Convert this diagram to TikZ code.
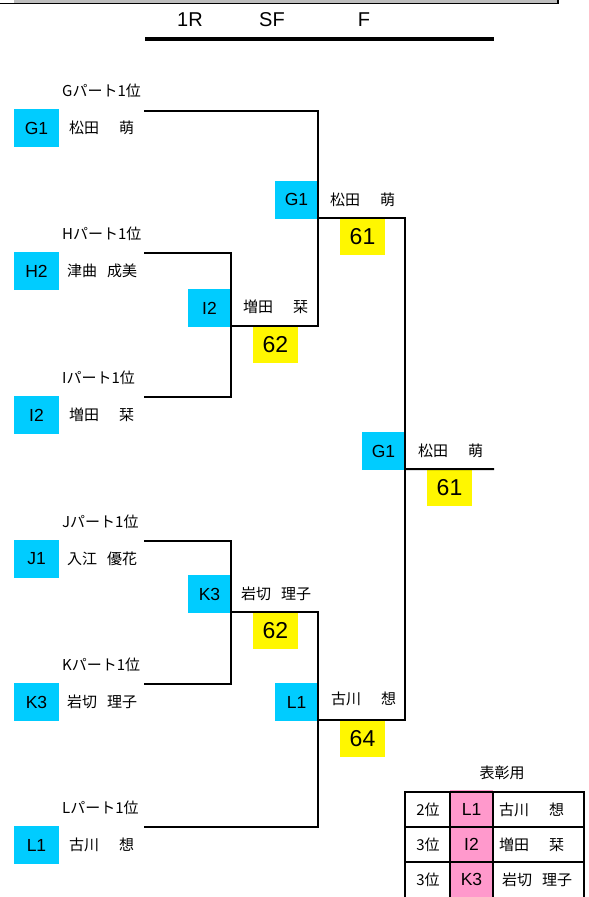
\documentclass[tikz,border=0pt]{standalone}
\usepackage{fontspec}
\setmainfont{Liberation Sans}
\newfontfamily\jp{Noto Sans CJK JP}
\definecolor{sky}{HTML}{00CCFF}
\definecolor{yel}{HTML}{FFF700}
\definecolor{pnk}{HTML}{FF99CC}
\definecolor{barg}{HTML}{BDBDBD}
\newcommand\nmA[2]{\makebox[65pt][l]{#1\hfill#2}}
\newcommand\nmB[2]{\makebox[70pt][l]{#1\hfill#2}}
\begin{document}
\begin{tikzpicture}[x=1pt,y=-1pt,
  seed/.style={fill=sky, minimum width=45pt, minimum height=38pt, inner sep=0pt, font=\fontsize{17.5}{17.5}\selectfont},
  sfbox/.style={seed, minimum width=43pt},
  score/.style={fill=yel, minimum width=45pt, minimum height=36pt, inner sep=0pt, font=\fontsize{23}{23}\selectfont},
  nm/.style={anchor=west, inner sep=0pt, font=\jp\fontsize{15}{15}\selectfont},
  lbl/.style={anchor=west, inner sep=0pt, font=\jp\fontsize{15}{15}\selectfont},
  hdr/.style={inner sep=0pt, font=\fontsize{20}{20}\selectfont},
  br/.style={line width=2pt},
  tcell/.style={inner sep=0pt, font=\jp\fontsize{15}{15}\selectfont},
  tcode/.style={inner sep=0pt, font=\fontsize{17.5}{17.5}\selectfont}]
\useasboundingbox (0,0) rectangle (589,897);
% top bar
\fill[barg] (14,-1) rectangle (558,2.5);
\draw[line width=1.5pt] (0,3.3) -- (558,3.3) -- (558,-1);
% header
\node[hdr] (h1) at (190,20) {1R};
\node[hdr] (h2) at (272,20) {SF};
\node[hdr] (h3) at (364,20) {F};
\coordinate (hl) at (145,39);
\coordinate (hr) at (494,39);
\draw[line width=4pt] (hl) -- (hr);
% left seeds
\node[lbl] (lg) at (62,91) {Gパート1位};
\node[seed] (sG) at (36.5,128) {G1};
\node[nm] (nG) at (69,128) {\nmA{松田}{萌}};
\node[lbl] (lh) at (62,234) {Hパート1位};
\node[seed] (sH) at (36.5,271) {H2};
\node[nm] (nH) at (67,271) {\nmB{津曲}{成美}};
\node[lbl] (li) at (62,378) {Iパート1位};
\node[seed] (sI) at (36.5,415) {I2};
\node[nm] (nI) at (69,415) {\nmA{増田}{栞}};
\node[lbl] (lj) at (62,522) {Jパート1位};
\node[seed] (sJ) at (36.5,559) {J1};
\node[nm] (nJ) at (67,559) {\nmB{入江}{優花}};
\node[lbl] (lk) at (62,665) {Kパート1位};
\node[seed] (sK) at (36.5,702) {K3};
\node[nm] (nK) at (67,702) {\nmB{岩切}{理子}};
\node[lbl] (ll) at (62,808) {Lパート1位};
\node[seed] (sL) at (36.5,845) {L1};
\node[nm] (nL) at (69,845) {\nmA{古川}{想}};
% bracket end coordinates
\coordinate (eG) at (144,111);
\coordinate (eH) at (144,253);
\coordinate (eI) at (144,397);
\coordinate (eJ) at (144,541);
\coordinate (eK) at (144,684);
\coordinate (eL) at (144,827);
% SF / F boxes
\node[sfbox] (w1) at (209.5,308) {I2};
\node[nm] (wn1) at (243,307) {\nmA{増田}{栞}};
\node[sfbox] (w2) at (296.5,199.5) {G1};
\node[nm] (wn2) at (330,200) {\nmA{松田}{萌}};
\node[sfbox] (w3) at (209.5,594) {K3};
\node[nm] (wn3) at (241,594) {\nmB{岩切}{理子}};
\node[sfbox] (w4) at (296.5,702) {L1};
\node[nm] (wn4) at (331,699) {\nmA{古川}{想}};
\node[sfbox] (w5) at (383.5,451) {G1};
\node[nm] (wn5) at (418,451) {\nmA{松田}{萌}};
% scores
\node[score] (c1) at (275.5,345) {62};
\node[score] (c2) at (362.5,237) {61};
\node[score] (c3) at (275.5,631) {62};
\node[score] (c4) at (362.5,739) {64};
\node[score] (c5) at (449.5,488) {61};
% connectors
\coordinate (fw) at (494,469);
\draw[br] (eH) -- (eH -| w1.east) -- (eI -| w1.east) -- (eI);
\draw[br] (eG) -- (eG -| w2.east) |- ([yshift=1pt]w1.south east);
\draw[br] ([yshift=1pt]w2.south east) -- ([yshift=1pt]w2.south east -| w5.east) -- ([yshift=1pt]w4.south east -| w5.east) -- ([yshift=1pt]w4.south east);
\draw[br] (eJ) -- (eJ -| w3.east) -- (eK -| w3.east) -- (eK);
\draw[br] ([yshift=1pt]w3.south east) -- ([yshift=1pt]w3.south east -| w4.east) -- (eL -| w4.east) -- (eL);
\draw[br] ([yshift=1pt]w5.south east) -- (fw);
% award table
\node[tcell] (tt) at (502,773) {表彰用};
\fill[pnk] (450,790) rectangle (493,897);
\draw[line width=2pt] (405,897) -- (405,792) -- (584,792) -- (584,897);
\draw[line width=2pt] (450,792) -- (450,897);
\draw[line width=2pt] (493,792) -- (493,897);
\draw[line width=2pt] (405,827) -- (584,827);
\draw[line width=2pt] (405,862) -- (584,862);
\node[tcell] (r1a) at (428,809.5) {2位};
\node[tcode] (r1b) at (471.5,809.5) {L1};
\node[nm] (r1c) at (499,809.5) {\nmA{古川}{想}};
\node[tcell] (r2a) at (428,844.5) {3位};
\node[tcode] (r2b) at (471.5,844.5) {I2};
\node[nm] (r2c) at (499,844.5) {\nmA{増田}{栞}};
\node[tcell] (r3a) at (428,879.5) {3位};
\node[tcode] (r3b) at (471.5,879.5) {K3};
\node[nm] (r3c) at (502,879.5) {\nmB{岩切}{理子}};
\end{tikzpicture}
\end{document}
